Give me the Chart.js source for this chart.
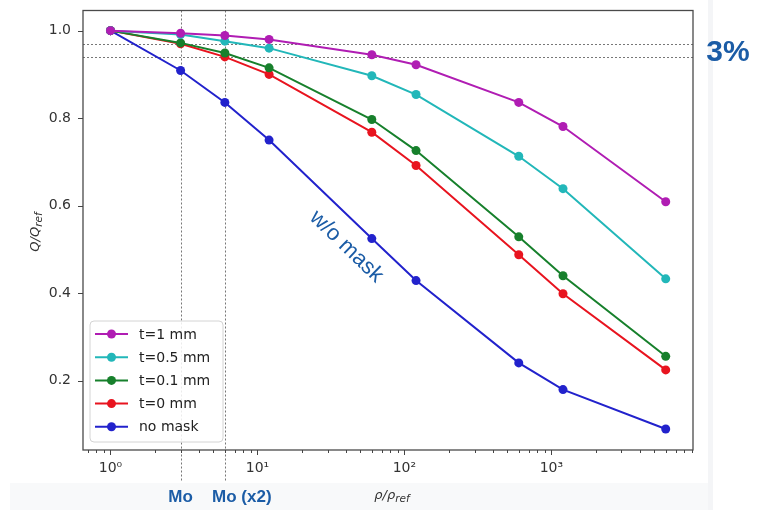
<!DOCTYPE html>
<html>
<head>
<meta charset="utf-8">
<script src="https://cdn.jsdelivr.net/npm/chart.js@4"></script>
<style>
  html, body { margin: 0; padding: 0; background: #fff; }
  #wrap { width: 760px; height: 510px; position: relative; }
</style>
</head>
<body>
<div id="wrap"><canvas id="chart" width="760" height="510"></canvas></div>
<script>
// ── Data ──────────────────────────────────────────────────────
const densityRatio = [1, 3, 6, 12, 60, 120, 600, 1200, 6000];

const qT1     = [1.0, 0.994, 0.989, 0.980, 0.945, 0.922, 0.836, 0.781, 0.609];
const qT05    = [1.0, 0.991, 0.976, 0.960, 0.897, 0.854, 0.713, 0.639, 0.433];
const qT01    = [1.0, 0.972, 0.949, 0.915, 0.797, 0.726, 0.529, 0.440, 0.256];
const qT0     = [1.0, 0.970, 0.940, 0.900, 0.768, 0.692, 0.488, 0.399, 0.225];
const qNoMask = [1.0, 0.909, 0.836, 0.750, 0.525, 0.429, 0.241, 0.180, 0.090];

const seriesLabels = ['t=1 mm', 't=0.5 mm', 't=0.1 mm', 't=0 mm', 'no mask'];
const seriesColors = ['#b01db3', '#22b7b9', '#17802c', '#e8141f', '#2222cc'];

const yTicks      = [0.2, 0.4, 0.6, 0.8, 1.0];
const xMajorTicks = [1, 10, 100, 1000];
const xMinorTicks = [0.7, 0.8, 0.9, 2, 3, 4, 5, 6, 7, 8, 9, 20, 30, 40, 50, 60, 70, 80, 90,
                     200, 300, 400, 500, 600, 700, 800, 900, 2000, 3000, 4000, 5000, 6000, 7000, 8000, 9000];
const supDigits   = ['⁰', '¹', '²', '³'];

const hRefLines = [0.97, 0.94];   // 3 % band
const vRefLines = [3, 6];         // Mo, Mo (x2)
const vRefText  = ['Mo', 'Mo (x2)'];

const FONT = '"DejaVu Sans", sans-serif';
const ANNOT = '#1b5ca6';

// ── Datasets ──────────────────────────────────────────────────
const allSeries = [qT1, qT05, qT01, qT0, qNoMask];
const datasets = allSeries.map((vals, i) => ({
  label: seriesLabels[i],
  data: densityRatio.map((x, j) => ({ x, y: vals[j] })),
  borderColor: seriesColors[i],
  backgroundColor: seriesColors[i],
  borderWidth: 2,
  pointRadius: 4.5,
  pointBorderWidth: 0,
  pointBackgroundColor: seriesColors[i],
  tension: 0
}));

// ── Decorations plugin ────────────────────────────────────────
const deco = {
  id: 'deco',
  beforeDraw(chart) {
    const ctx = chart.ctx;
    ctx.save();
    ctx.fillStyle = '#ffffff';
    ctx.fillRect(0, 0, chart.width, chart.height);
    ctx.fillStyle = '#f8f9fa';
    ctx.fillRect(10, 483, 700, 27);
    ctx.fillStyle = '#f4f5f7';
    ctx.fillRect(708, 0, 5, 510);
    ctx.restore();
  },
  beforeDatasetsDraw(chart) {
    const { ctx, chartArea: a, scales: { x, y } } = chart;
    ctx.save();
    ctx.strokeStyle = '#777';
    ctx.lineWidth = 1;
    ctx.setLineDash([2, 2]);
    hRefLines.forEach(v => {
      const py = Math.round(y.getPixelForValue(v)) + 0.5;
      ctx.beginPath(); ctx.moveTo(a.left, py); ctx.lineTo(a.right, py); ctx.stroke();
    });
    vRefLines.forEach(v => {
      const px = Math.round(x.getPixelForValue(v)) + 0.5;
      ctx.beginPath(); ctx.moveTo(px, a.top); ctx.lineTo(px, 482); ctx.stroke();
    });
    ctx.restore();
  },
  afterDraw(chart) {
    const { ctx, chartArea: a, scales: { x, y } } = chart;
    ctx.save();

    // frame
    ctx.strokeStyle = '#4a4a4a';
    ctx.lineWidth = 1.3;
    ctx.strokeRect(a.left, a.top, a.right - a.left, a.bottom - a.top);

    // tick marks
    ctx.lineWidth = 1;
    ctx.strokeStyle = '#444';
    xMajorTicks.forEach(v => {
      const px = Math.round(x.getPixelForValue(v)) + 0.5;
      ctx.beginPath(); ctx.moveTo(px, a.bottom); ctx.lineTo(px, a.bottom + 5); ctx.stroke();
    });
    xMinorTicks.forEach(v => {
      const px = Math.round(x.getPixelForValue(v)) + 0.5;
      ctx.beginPath(); ctx.moveTo(px, a.bottom); ctx.lineTo(px, a.bottom + 3); ctx.stroke();
    });
    yTicks.forEach(v => {
      const py = Math.round(y.getPixelForValue(v)) + 0.5;
      ctx.beginPath(); ctx.moveTo(a.left - 5, py); ctx.lineTo(a.left, py); ctx.stroke();
    });

    // axis titles with subscripts
    ctx.fillStyle = '#333';
    ctx.textBaseline = 'alphabetic';
    const title = (main, sub, cx, cy, rot) => {
      ctx.save();
      ctx.translate(cx, cy);
      ctx.rotate(rot);
      ctx.font = 'italic 13px ' + FONT;
      const w1 = ctx.measureText(main).width;
      ctx.font = 'italic 10.5px ' + FONT;
      const w2 = ctx.measureText(sub).width;
      const x0 = -(w1 + w2) / 2;
      ctx.font = 'italic 13px ' + FONT;
      ctx.textAlign = 'left';
      ctx.fillText(main, x0, 4);
      ctx.font = 'italic 10.5px ' + FONT;
      ctx.fillText(sub, x0 + w1, 7);
      ctx.restore();
    };
    title('Q/Q', 'ref', 35, 232, -Math.PI / 2);
    title('ρ/ρ', 'ref', 392, 495, 0);

    // legend
    const lx = 90, ly = 321, lw = 133, lh = 121;
    ctx.beginPath();
    ctx.roundRect(lx, ly, lw, lh, 4);
    ctx.fillStyle = 'rgba(255,255,255,0.85)';
    ctx.fill();
    ctx.strokeStyle = '#d4d4d4';
    ctx.lineWidth = 1;
    ctx.stroke();
    ctx.font = '14px ' + FONT;
    ctx.textAlign = 'left';
    ctx.textBaseline = 'middle';
    chart.data.datasets.forEach((ds, i) => {
      const ry = 334 + i * 23.2;
      ctx.strokeStyle = ds.borderColor;
      ctx.lineWidth = 2;
      ctx.beginPath(); ctx.moveTo(95, ry); ctx.lineTo(128, ry); ctx.stroke();
      ctx.fillStyle = ds.borderColor;
      ctx.beginPath(); ctx.arc(111.5, ry, 4.5, 0, Math.PI * 2); ctx.fill();
      ctx.fillStyle = '#222';
      ctx.fillText(ds.label, 139, ry + 1);
    });

    // annotations
    ctx.fillStyle = ANNOT;
    ctx.textBaseline = 'alphabetic';
    ctx.textAlign = 'center';
    ctx.font = 'bold 30px "Liberation Sans", Arial, sans-serif';
    ctx.fillText('3%', 728, 61);
    ctx.font = 'bold 17px "Liberation Sans", Arial, sans-serif';
    vRefLines.forEach((v, i) => {
      const px = x.getPixelForValue(v);
      const off = i === 1 ? 17 : 0;
      ctx.fillText(vRefText[i], px + off, 502);
    });
    ctx.save();
    ctx.translate(347, 246);
    ctx.rotate(Math.PI / 4.1);
    ctx.font = '22px "Liberation Sans", Arial, sans-serif';
    ctx.fillText('w/o mask', 0, 7);
    ctx.restore();

    ctx.restore();
  }
};

// ── Chart ─────────────────────────────────────────────────────
new Chart(document.getElementById('chart'), {
  type: 'line',
  data: { datasets },
  plugins: [deco],
  options: {
    animation: false,
    responsive: false,
    layout: { padding: { left: 0, top: 10.5, right: 67, bottom: 0 } },
    plugins: {
      legend:  { display: false },
      tooltip: { enabled: false }
    },
    scales: {
      x: {
        type: 'logarithmic',
        min: 0.65,
        max: 9200,
        afterBuildTicks: s => { s.ticks = xMajorTicks.map(v => ({ value: v })); },
        afterFit: s => {
          s.height = 60;
          s.paddingLeft = 0; s.paddingRight = 0;
        },
        grid:   { display: false, drawTicks: false },
        border: { display: false },
        ticks: {
          autoSkip: false,
          maxRotation: 0,
          padding: 10,
          color: '#333',
          font: { family: FONT, size: 14 },
          callback: v => '10' + supDigits[Math.round(Math.log10(v))]
        }
      },
      y: {
        min: 0.042,
        max: 1.046,
        afterBuildTicks: s => { s.ticks = yTicks.map(v => ({ value: v })); },
        afterFit: s => {
          s.width = 83;
          s.paddingTop = 0; s.paddingBottom = 0;
        },
        grid:   { display: false, drawTicks: false },
        border: { display: false },
        ticks: {
          padding: 12,
          color: '#333',
          font: { family: FONT, size: 14 },
          callback: v => v.toFixed(1)
        }
      }
    }
  }
});
</script>
</body>
</html>
